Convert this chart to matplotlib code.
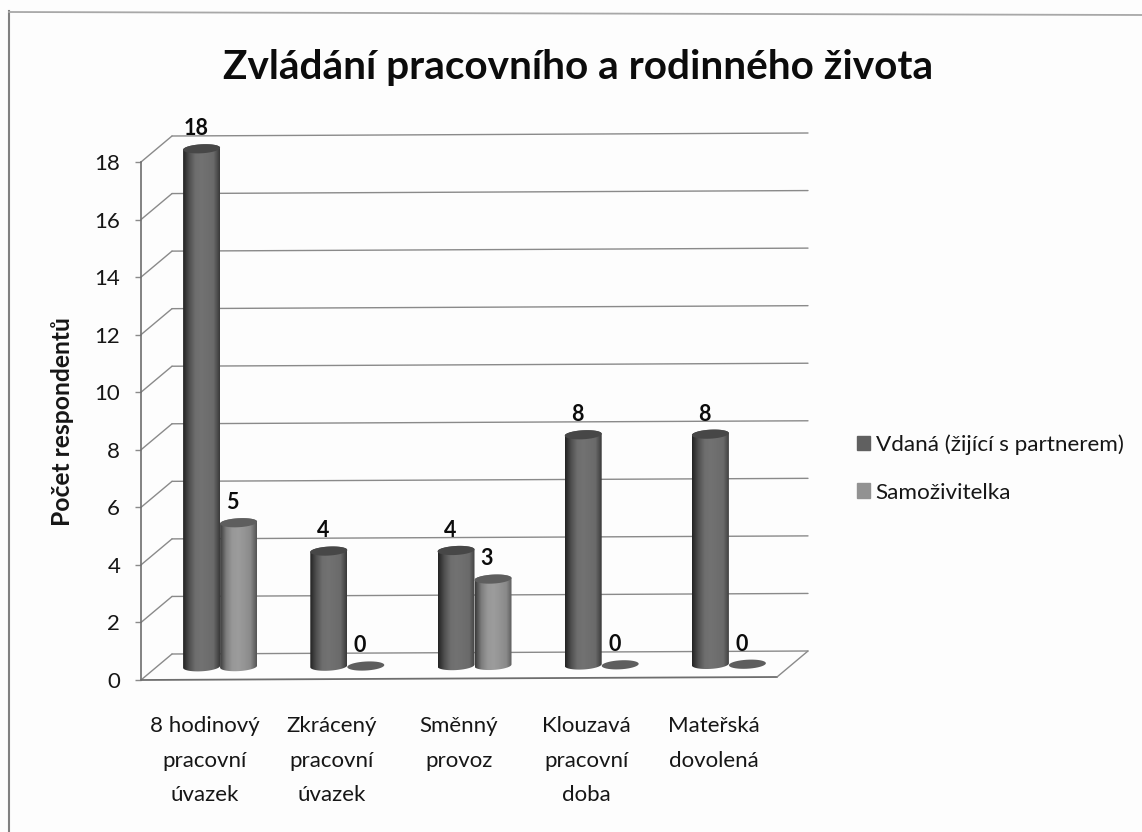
import numpy as np
import matplotlib
matplotlib.use("Agg")
import matplotlib.pyplot as plt
from matplotlib.colors import LinearSegmentedColormap
from matplotlib.patches import Patch, Polygon

categories = ["8 hodinový\npracovní\núvazek", "Zkrácený\npracovní\núvazek", "Směnný\nprovoz",
              "Klouzavá\npracovní\ndoba", "Mateřská\ndovolená"]
series_names = ["Vdaná (žijící s partnerem)", "Samoživitelka"]
married = [18, 4, 4, 8, 8]
single = [5, 0, 3, 0, 0]
yticks = list(range(0, 19, 2))

W, H = 1142, 832
PX_X = 127.2   # pixels per category
PX_Y = 28.78   # pixels per unit
DEPTH_DX = 31 / PX_X
DEPTH_DY = 26 / PX_Y
RISE = 3 / PX_Y / 5  # the floor climbs a little to the right
BAR_A = 18.5 / PX_X
BAR_B = 4.5 / PX_Y
TILT = (2.0 / PX_Y) / (2 * BAR_A)

GREY = "#8a8a8a"
INK = "#161616"
FONT = "Lato"

plt.rcParams["font.family"] = [FONT, "DejaVu Sans"]
fig = plt.figure(figsize=(W / 100, H / 100), dpi=100, facecolor="#fdfdfd")
ax = fig.add_axes([141 / W, 1 - 680 / H, 636 / W, 518 / H], facecolor="none")


def project(x, v, d):
    # oblique view: x along the front, v up, d from front (0) to back wall (1)
    return x + d * DEPTH_DX, v + d * DEPTH_DY + x * RISE


def line3d(p, q, **kw):
    x0, y0 = project(*p)
    x1, y1 = project(*q)
    ax.plot([x0, x1], [y0, y1], clip_on=False, solid_capstyle="round", **kw)


def ellipse(cx, cy, start, stop, n=40):
    t = np.linspace(start, stop, n)
    x = cx + BAR_A * np.cos(t)
    return x, cy + BAR_B * np.sin(t) + TILT * (x - cx)


def cylinder(cx, value, side_colors, top_color):
    x0, y0 = project(cx, 0, 0.5)
    y1 = y0 + value
    if value > 0:
        bx, by = ellipse(x0, y0, np.pi, 2 * np.pi)
        tx, ty = ellipse(x0, y1, 0, np.pi)
        clip = Polygon(np.column_stack([np.r_[bx, tx], np.r_[by, ty]]), closed=True,
                       transform=ax.transData, fc="none", ec="none")
        cmap = LinearSegmentedColormap.from_list("side", side_colors)
        im = ax.imshow(np.linspace(0, 1, 64)[None, :], cmap=cmap, aspect="auto", zorder=3,
                       extent=[x0 - BAR_A, x0 + BAR_A, y0 - 2 * BAR_B, y1 + 2 * BAR_B])
        im.set_clip_box(fig.bbox)
        im.set_clip_path(clip)
    ex, ey = ellipse(x0, y1, 0, 2 * np.pi)
    ax.fill(ex, ey, color=top_color, lw=0, zorder=4, clip_on=False)
    ax.annotate(str(value), (x0, y1), xytext=(-4.3, 14.5), textcoords="offset points",
                ha="center", va="center", fontsize=15.5, fontweight="bold", color="#0c0c0c",
                zorder=6, annotation_clip=False)


# walls and floor
for v in yticks:
    line3d((0, v, 0), (0, v, 1), color=GREY, lw=1, zorder=1)
    line3d((0, v, 1), (5, v, 1), color=GREY, lw=1, zorder=1)
line3d((0, 0, 0), (5, 0, 0), color="#6e6e6e", lw=1.3, zorder=1)
line3d((5, 0, 0), (5, 0, 1), color=GREY, lw=1, zorder=1)

dark = ["#242424", "#505050", "#6e6e6e", "#727272", "#6e6e6e", "#6a6a6a", "#3a3a3a"]
light = ["#3c3c3c", "#7e7e7e", "#989898", "#9c9c9c", "#949494", "#8a8a8a", "#555555"]
for i in range(len(categories)):
    c = i + 0.5
    cylinder(c - BAR_A, married[i], dark, "#474747")
    cylinder(c + BAR_A, single[i], light, "#5e5e5e")

ax.set_xlim(0, 5)
ax.set_ylim(0, 18)
ax.set_xticks([i + 0.5 for i in range(5)])
ax.set_xticklabels(categories, fontsize=16, color=INK, linespacing=1.91, va="top")
ax.tick_params(axis="x", length=0, pad=26)
ax.set_yticks(yticks)
ax.tick_params(axis="y", length=4, width=1, color=GREY, labelsize=16, labelcolor=INK, pad=11)
for name in ["top", "right", "bottom"]:
    ax.spines[name].set_visible(False)
ax.spines["left"].set_color("#6e6e6e")
ax.spines["left"].set_linewidth(1.2)

fig.text(578.5 / W, 1 - 68 / H, "Zvládání pracovního a rodinného života", ha="center", va="center",
         fontsize=29.2, fontweight="bold", color="#0c0c0c")
fig.text(63 / W, 1 - 422 / H, "Počet respondentů", rotation=90, ha="center", va="center",
         fontsize=17.7, fontweight="bold", color=INK)

handles = [Patch(color="#606060", label=series_names[0]), Patch(color="#929292", label=series_names[1])]
fig.legend(handles=handles, loc="upper left", bbox_to_anchor=(852 / W, 1 - 430 / H), frameon=False,
           fontsize=16.2, labelcolor=INK, handlelength=0.6, handleheight=0.6, handletextpad=0.25,
           labelspacing=1.22, borderpad=0.2, borderaxespad=0)

# scanned page frame, slightly crooked
fig.add_artist(plt.Line2D([9 / W, 9 / W], [0, 1 - 11 / H], color="#808080", lw=1.5))
fig.add_artist(plt.Line2D([9 / W, 1], [1 - 12 / H, 1 - 15 / H], color="#a8a8a8", lw=1.3))

fig.savefig("out.png", dpi=100, facecolor=fig.get_facecolor())
